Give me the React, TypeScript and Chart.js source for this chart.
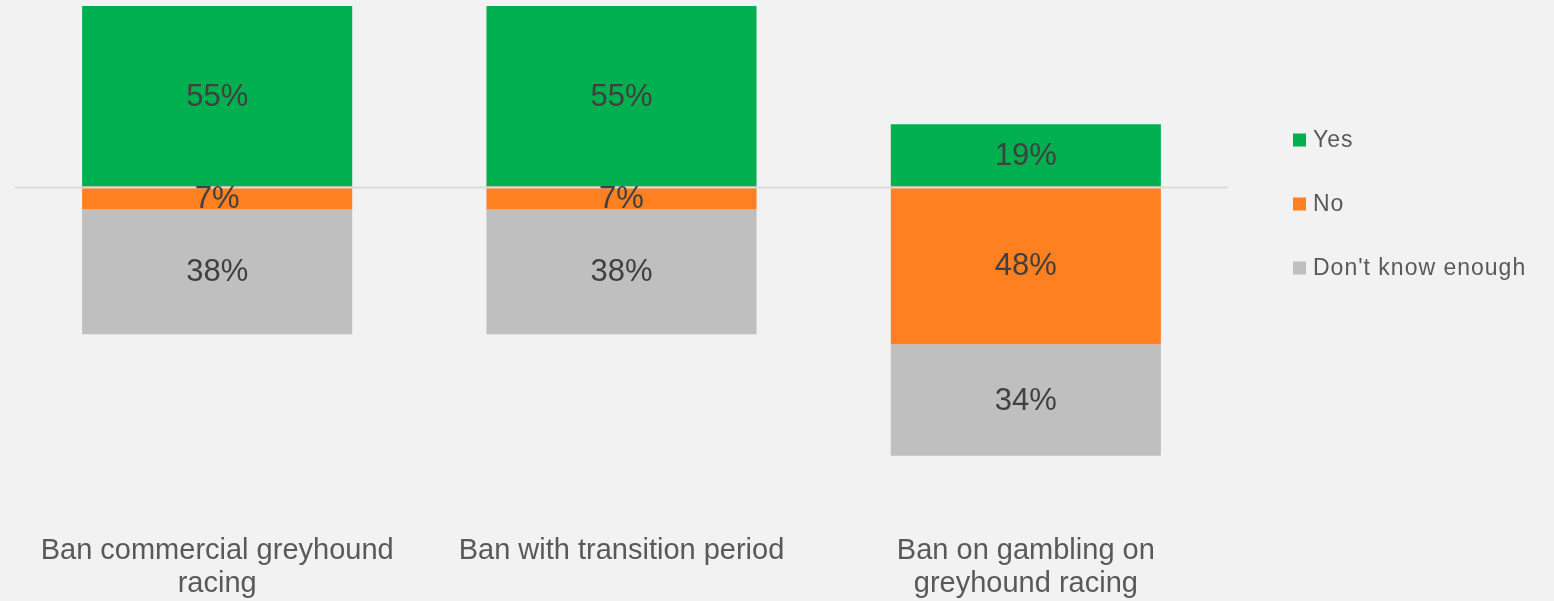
import React, { useEffect, useRef } from "react";
import { Chart, registerables } from "chart.js";

Chart.register(...registerables);

const categories: string[][] = [
  ["Ban commercial greyhound", "racing"],
  ["Ban with transition period"],
  ["Ban on gambling on", "greyhound racing"],
];
const seriesNames = ["Yes", "No", "Don't know enough"];
const yesValues = [55, 55, 19];
const noValues = [7, 7, 48];
const dontKnowValues = [38, 38, 34];
const seriesColors = ["#00B050", "#FF8021", "#BFBFBF"];
const yMin = -100;
const yMax = 55;

const FONT = "'Liberation Sans', Arial, sans-serif";

const overlayPlugin = {
  id: "overlay",
  afterDatasetsDraw(chart: any) {
    const ctx = chart.ctx;
    const area = chart.chartArea;
    const yScale = chart.scales.y;
    const zeroY = Math.round(yScale.getPixelForValue(0)) + 0.5;
    ctx.save();
    // zero line
    ctx.strokeStyle = "#D9D9D9";
    ctx.lineWidth = 2;
    ctx.beginPath();
    ctx.moveTo(area.left, zeroY);
    ctx.lineTo(area.right, zeroY);
    ctx.stroke();
    // data labels
    ctx.fillStyle = "#404040";
    ctx.font = `31px ${FONT}`;
    ctx.textAlign = "center";
    ctx.textBaseline = "middle";
    chart.data.datasets.forEach((ds: any, i: number) => {
      const meta = chart.getDatasetMeta(i);
      meta.data.forEach((el: any, j: number) => {
        const v = Math.abs(ds.data[j]);
        const cy = (el.y + el.base) / 2;
        ctx.fillText(`${v}%`, el.x, cy + 1);
      });
    });
    // legend
    const lx = area.right + 65;
    const ly0 = 140;
    const step = 64;
    ctx.textAlign = "left";
    ctx.font = `23px ${FONT}`;
    try {
      (ctx as any).letterSpacing = "1px";
    } catch (e) {}
    seriesNames.forEach((name, i) => {
      const y = ly0 + i * step;
      ctx.fillStyle = seriesColors[i];
      ctx.fillRect(lx, y - 6.5, 13, 13);
      ctx.fillStyle = "#595959";
      ctx.fillText(name, lx + 20, y + 1);
    });
    ctx.restore();
  },
};

export default function App() {
  const canvasRef = useRef<HTMLCanvasElement | null>(null);

  useEffect(() => {
    const canvas = canvasRef.current;
    if (!canvas) return;
    const chart = new Chart(canvas, {
      type: "bar",
      data: {
        labels: categories as any,
        datasets: [
          {
            label: seriesNames[0],
            data: yesValues,
            backgroundColor: seriesColors[0],
            borderWidth: 0,
          },
          {
            label: seriesNames[1],
            data: noValues.map((v) => -v),
            backgroundColor: seriesColors[1],
            borderWidth: 0,
          },
          {
            label: seriesNames[2],
            data: dontKnowValues.map((v) => -v),
            backgroundColor: seriesColors[2],
            borderWidth: 0,
          },
        ],
      },
      options: {
        responsive: false,
        animation: false,
        devicePixelRatio: 1,
        layout: { padding: { top: 6, left: 15, right: 326, bottom: -20 } },
        datasets: {
          bar: { barPercentage: 1, categoryPercentage: 0.668 },
        } as any,
        plugins: {
          legend: { display: false },
          tooltip: { enabled: false },
        },
        scales: {
          x: {
            stacked: true,
            grid: { display: false, drawTicks: false },
            border: { display: false },
            ticks: {
              color: "#595959",
              font: { family: FONT, size: 29, lineHeight: 1.14 },
              padding: 20,
              maxRotation: 0,
              minRotation: 0,
              autoSkip: false,
            },
          },
          y: {
            stacked: true,
            display: false,
            min: yMin,
            max: yMax,
          },
        },
      },
      plugins: [overlayPlugin],
    });
    return () => chart.destroy();
  }, []);

  return (
    <div
      style={{
        position: "fixed",
        left: 0,
        top: 0,
        width: 1554,
        height: 601,
        background: "#F2F2F2",
      }}
    >
      <canvas ref={canvasRef} width={1554} height={601} style={{ display: "block" }} />
    </div>
  );
}
